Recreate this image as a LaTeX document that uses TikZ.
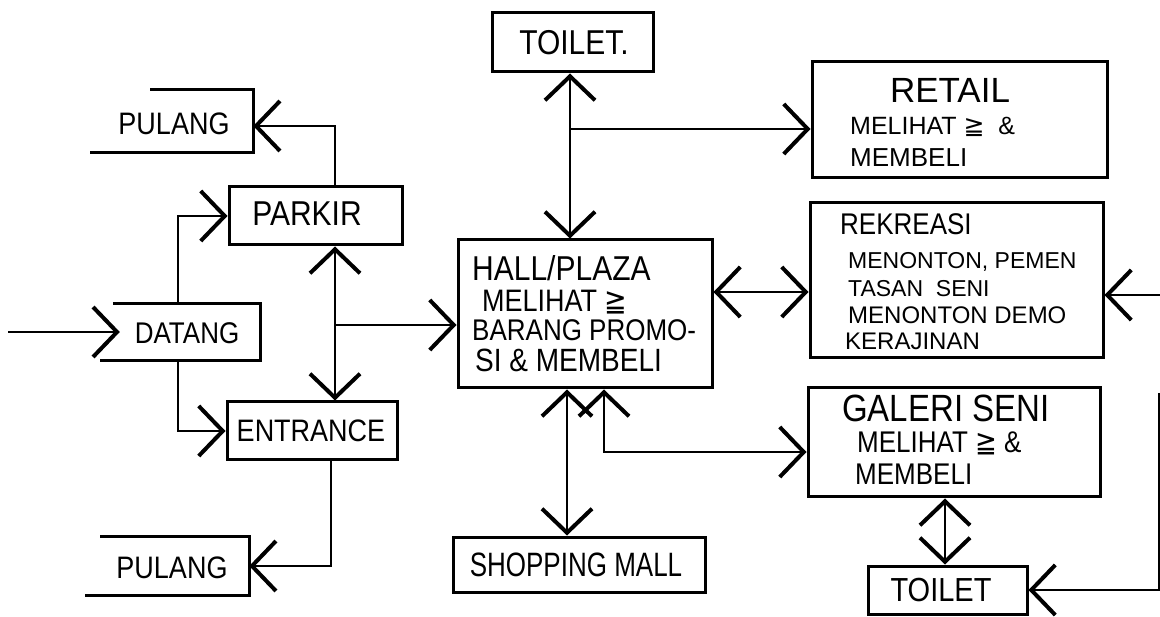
\documentclass[tikz,border=0pt]{standalone}
\usepackage{fontspec}
\setmainfont{Liberation Sans}
\newfontfamily\symf{DejaVu Sans}
\usetikzlibrary{arrows.meta,calc}
\newcommand{\rep}{{\symf ≧}}
\newcommand{\tl}[1]{\scalebox{1}[1.15]{#1}}
\tikzset{
  box/.style={draw, line width=3pt, inner sep=0pt},
  ghost/.style={draw=none, inner sep=0pt},
  boxln/.style={line width=3pt},
  link/.style={line width=1.1pt},
  barb/.tip={Straight Barb[length=24pt,width=50pt,line width=4pt]},
  tipend/.style={-barb},
  tipboth/.style={barb-barb},
  lbl/.style={inner sep=0pt, font=\fontsize{#1}{#1}\selectfont},
}
\begin{document}
\begin{tikzpicture}[x=1pt,y=-1pt]
\useasboundingbox (0,0) rectangle (1160,617);
\fill[white] (0,0) rectangle (1160,617);

% routing lanes
\coordinate (c1) at (335,0);
\coordinate (c2) at (178,0);
\coordinate (c3) at (331,0);
\coordinate (c4) at (570,0);
\coordinate (c5) at (567,0);
\coordinate (c6) at (604,0);
\coordinate (c7) at (945,0);
\coordinate (j1) at (335,325);
\coordinate (j2) at (570,129);
\coordinate (j3) at (760,292);
\coordinate (j4) at (700,452);
\coordinate (in1) at (8,332);
\coordinate (in2) at (1160,295);
\coordinate (in3) at (1159,393);

% boxes
\node[ghost, minimum width=106pt, minimum height=62pt] (pulang1) at (200,121) {};
\draw[boxln] ([xshift=-103pt]pulang1.north east) -- (pulang1.north east) -- (pulang1.south east) -- ([xshift=-163pt]pulang1.south east);
\node[box, minimum width=173pt, minimum height=58pt] (parkir) at (315.5,216) {};
\node[ghost, minimum width=140pt, minimum height=57pt] (datang) at (190,332) {};
\draw[boxln] ([xshift=-7pt]datang.north west) -- (datang.north east) -- (datang.south east) -- ([xshift=-20pt]datang.south west);
\node[box, minimum width=170pt, minimum height=58pt] (entrance) at (312,431) {};
\node[ghost, minimum width=119pt, minimum height=58pt] (pulang2) at (189.5,566) {};
\draw[boxln] ([xshift=-149pt]pulang2.north east) -- (pulang2.north east) -- (pulang2.south east) -- ([xshift=-164pt]pulang2.south east);
\node[box, minimum width=161pt, minimum height=59pt] (toilet1) at (572.5,42.5) {};
\node[box, minimum width=254pt, minimum height=148pt] (hall) at (585,314) {};
\node[box, minimum width=252pt, minimum height=55pt] (mall) at (579,564.5) {};
\node[box, minimum width=295pt, minimum height=116pt] (retail) at (959.5,120) {};
\node[box, minimum width=293pt, minimum height=155pt] (rekreasi) at (956.5,280.5) {};
\node[box, minimum width=292pt, minimum height=109pt] (galeri) at (954,442.5) {};
\node[box, minimum width=159pt, minimum height=48pt] (toilet2) at (947.5,590) {};

% labels
\node[lbl=27] (tPulang1) at (174,124) {\tl{PULANG}};
\node[lbl=30] (tParkir) at (307,214) {\tl{PARKIR}};
\node[lbl=26] (tDatang) at (187,333) {\tl{DATANG}};
\node[lbl=27] (tEntrance) at (311,431) {\tl{ENTRANCE}};
\node[lbl=27] (tPulang2) at (172,568) {\tl{PULANG}};
\node[lbl=30] (tToilet1) at (574,43) {\tl{TOILET.}};
\node[lbl=30, anchor=west] (tHall1) at (472,268) {\tl{HALL/PLAZA}};
\node[lbl=27, anchor=west] (tHall2) at (482,302) {\tl{MELIHAT \rep}};
\node[lbl=26, anchor=west] (tHall3) at (472,330) {\tl{BARANG PROMO-}};
\node[lbl=28, anchor=west] (tHall4) at (475,360) {\tl{SI \& MEMBELI}};
\node[lbl=26] (tMall) at (576,565) {\scalebox{1}[1.3]{SHOPPING MALL}};
\node[lbl=35] (tRetail1) at (950,90) {RETAIL};
\node[lbl=25, anchor=west] (tRetail2) at (850,127) {MELIHAT \rep{}\ \ \&};
\node[lbl=26, anchor=west] (tRetail3) at (850,158) {MEMBELI};
\node[lbl=26, anchor=west] (tRek1) at (840,224) {\tl{REKREASI}};
\node[lbl=23, anchor=west] (tRek2) at (848,262) {MENONTON, PEMEN};
\node[lbl=23, anchor=west] (tRek3) at (848,289) {TASAN\ \ SENI};
\node[lbl=24, anchor=west] (tRek4) at (848,315) {MENONTON DEMO};
\node[lbl=24, anchor=west] (tRek5) at (845,341) {KERAJINAN};
\node[lbl=33, anchor=west] (tGal1) at (842,408) {\tl{GALERI SENI}};
\node[lbl=26, anchor=west] (tGal2) at (857,443) {\tl{MELIHAT \rep{} \&}};
\node[lbl=26, anchor=west] (tGal3) at (855,474) {\tl{MEMBELI}};
\node[lbl=29] (tToilet2) at (941,590) {\tl{TOILET}};

% connectors
\draw[link,tipend] (in1) -- (datang.west);
\draw[link,tipend] (parkir.north -| c1) |- ([yshift=-5pt]pulang1.east);
\draw[link,tipend] (datang.north -| c2) |- (parkir.west);
\draw[link,tipend] (datang.south -| c2) |- (entrance.west);
\draw[link,tipboth] (parkir.south -| c1) -- (entrance.north -| c1);
\draw[link,tipend] (j1) -- (j1 -| hall.west);
\draw[link,tipend] (entrance.south -| c3) |- (pulang2.east);
\draw[link,tipboth] (toilet1.south -| c4) -- (hall.north -| c4);
\draw[link,tipend] (j2) -- (j2 -| retail.west);
\draw[link,tipboth] (j3 -| hall.east) -- (j3 -| rekreasi.west);
\draw[link,tipboth] (hall.south -| c5) -- (mall.north -| c5);
\draw[link,tipboth] (hall.south -| c6) |- (galeri.west |- j4);
\draw[link,tipboth] (galeri.south -| c7) -- (toilet2.north -| c7);
\draw[link,tipend] (in2) -- (in2 -| rekreasi.east);
\draw[link,tipend] (in3) |- (toilet2.east);
\end{tikzpicture}
\end{document}
